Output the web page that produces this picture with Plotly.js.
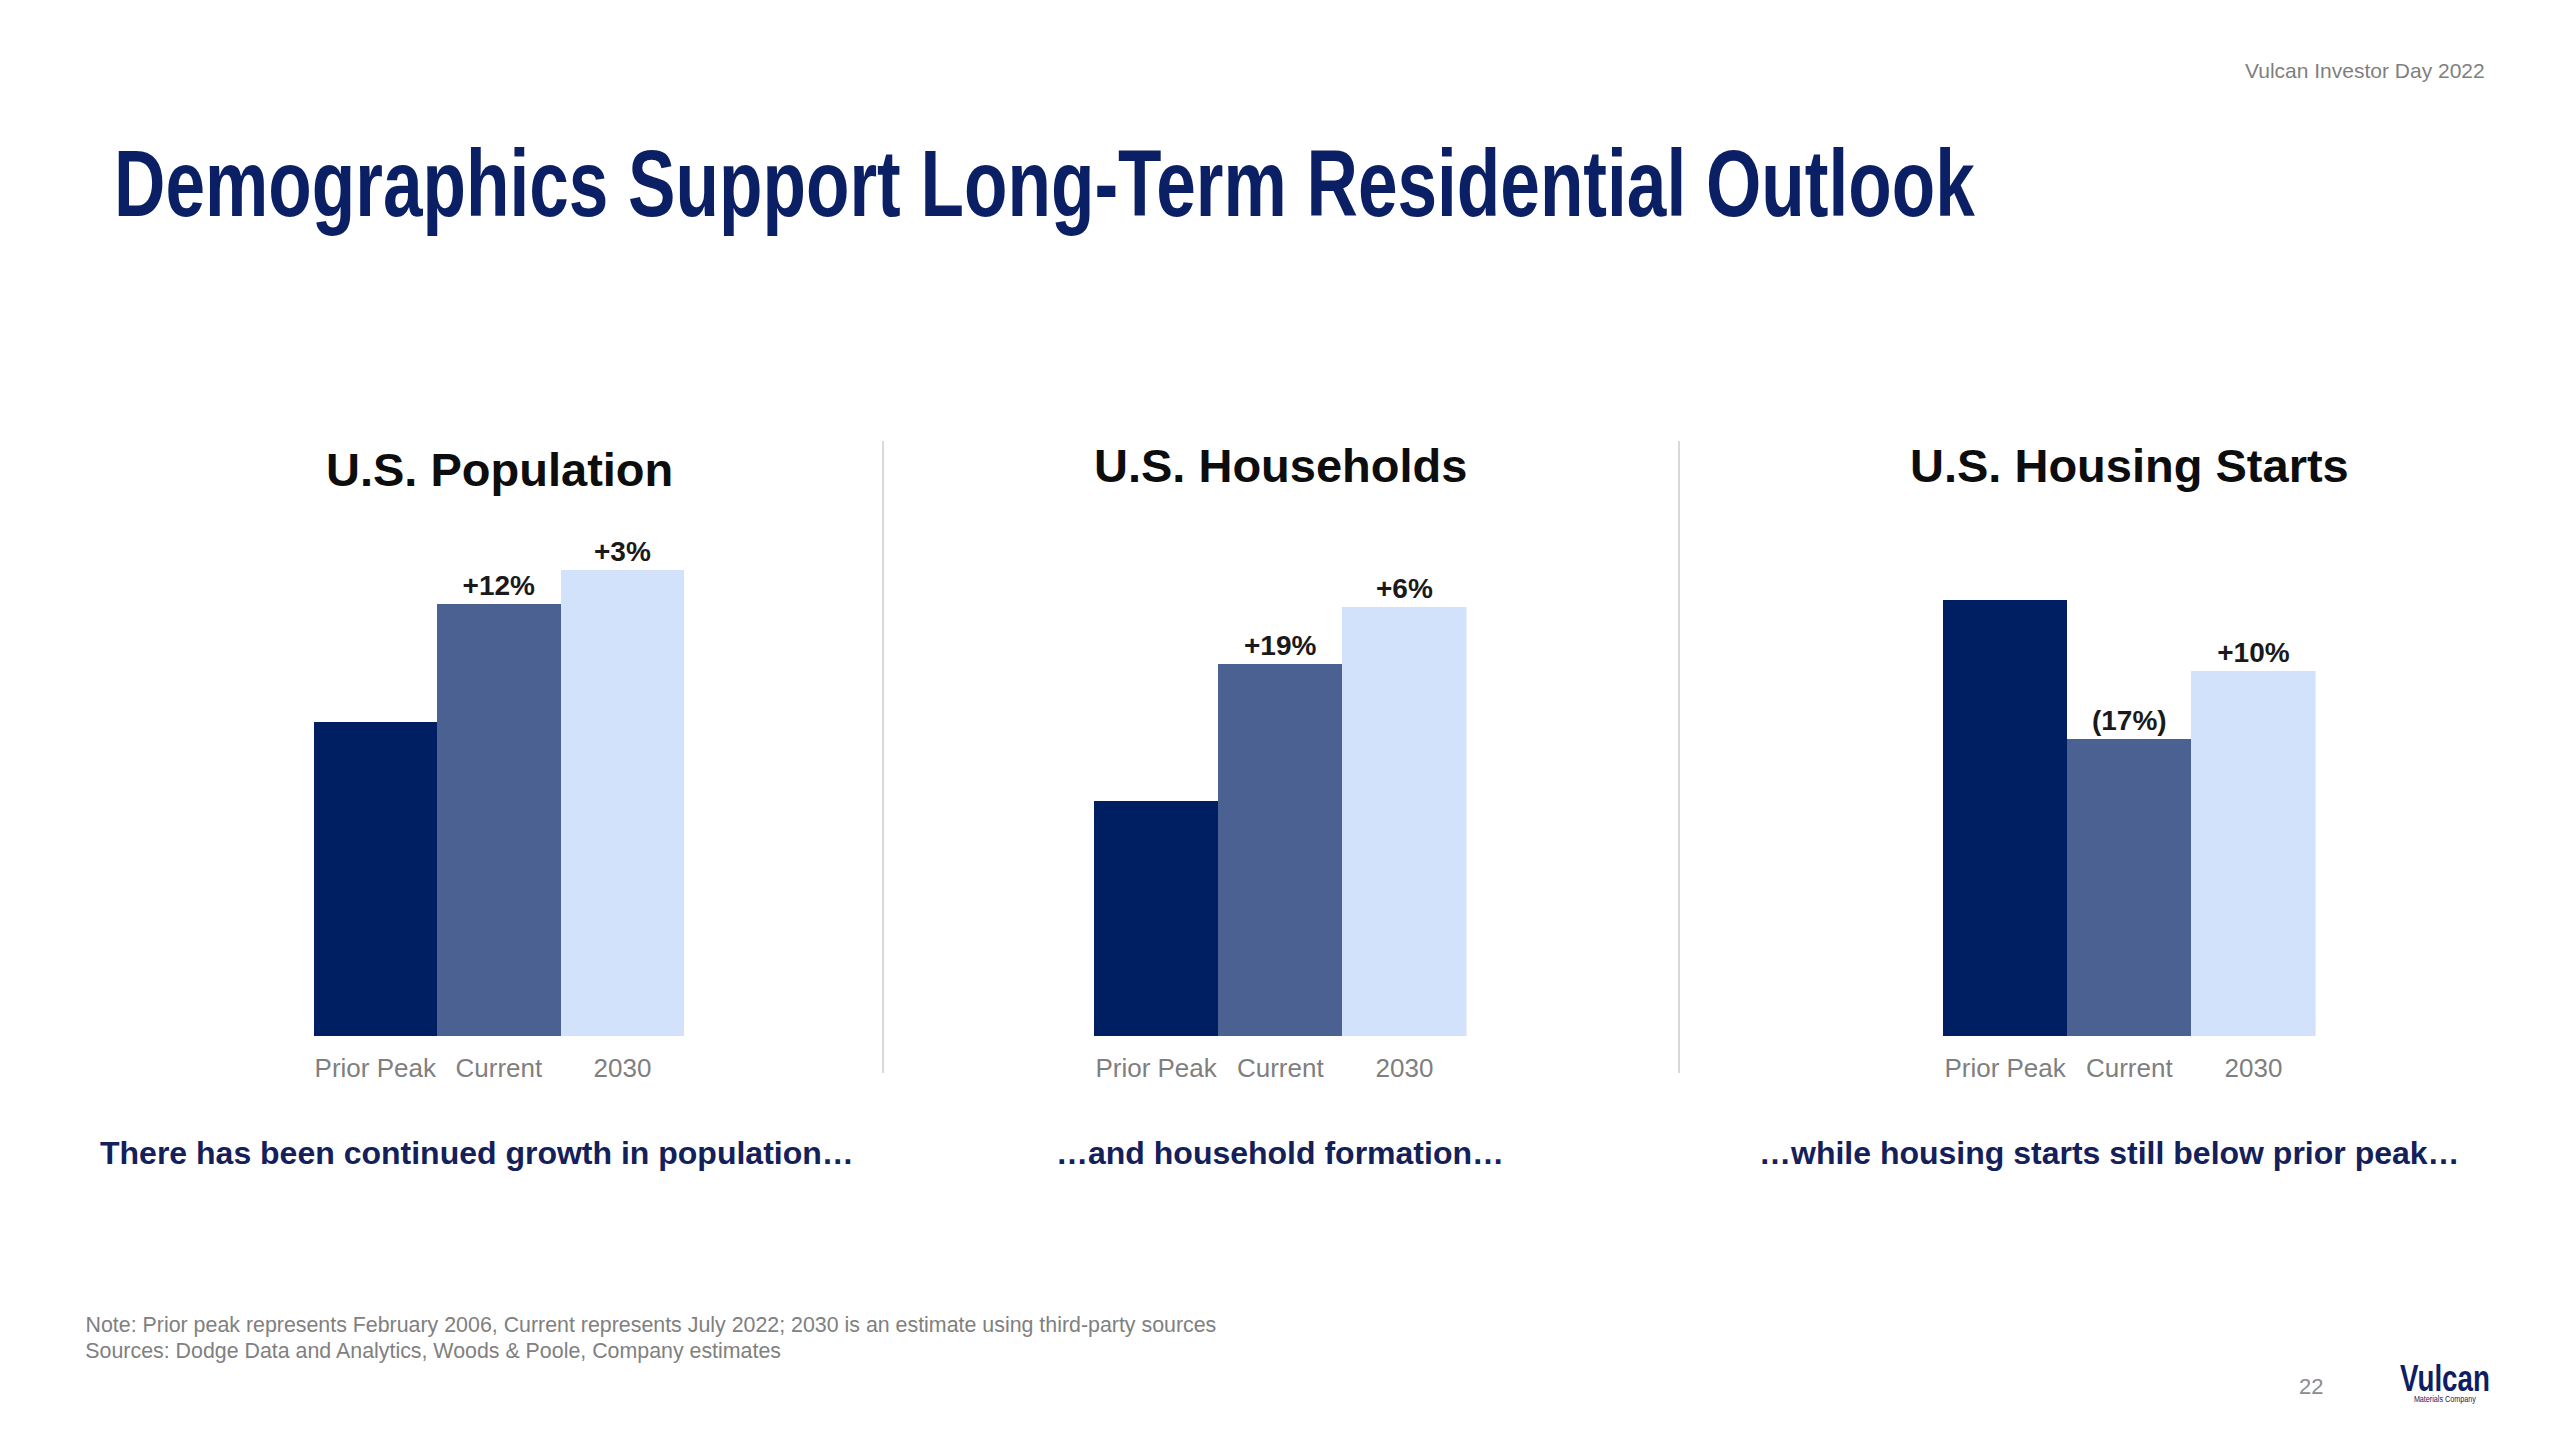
<!DOCTYPE html>
<html>
<head>
<meta charset="utf-8">
<script src="https://cdn.plot.ly/plotly-3.0.1.min.js"></script>
<style>
html,body{margin:0;padding:0;background:#fff;}
#chart{width:2560px;height:1440px;}
</style>
</head>
<body>
<div id="chart"></div>
<script>
// ---- Data (index: Prior Peak = 100) ----
const categories = ["Prior Peak", "Current", "2030"];
const panelTitles = ["U.S. Population", "U.S. Households", "U.S. Housing Starts"];
const populationValues = [100, 112, 115.4];
const householdValues = [100, 119, 127];
const housingStartValues = [100, 83, 91.3];
const populationLabels = ["", "+12%", "+3%"];
const householdLabels = ["", "+19%", "+6%"];
const housingStartLabels = ["", "(17%)", "+10%"];
const captions = [
  "There has been continued growth in population\u2026",
  "\u2026and household formation\u2026",
  "\u2026while housing starts still below prior peak\u2026"
];
const noteLines = [
  "Note: Prior peak represents February 2006, Current represents July 2022; 2030 is an estimate using third-party sources",
  "Sources: Dodge Data and Analytics, Woods & Poole, Company estimates"
];

// ---- Styles ----
const barColors = ["#001E62", "#4B6192", "#D3E2FB"];
const W = 2560, H = 1440;
const px = x => x / W;
const py = y => 1 - y / H;
const baseFont = "Liberation Sans, Arial, Helvetica, sans-serif";

const series = [populationValues, householdValues, housingStartValues];
const labels = [populationLabels, householdLabels, housingStartLabels];
const xDomains = [[px(313.5), px(684.2)], [px(1094), px(1466.5)], [px(1943), px(2315.6)]];
const yRanges = [[68.19, 122.5], [67.36, 141.8], [46.83, 112.2]];
const yDomain = [py(1036), py(500)];

const traces = series.map((vals, i) => ({
  type: "bar",
  x: categories,
  y: vals,
  text: labels[i],
  textposition: "outside",
  constraintext: "none",
  textfont: {family: baseFont, size: 28, color: "#1A1A1A", weight: "bold"},
  marker: {color: barColors, line: {width: 0}},
  xaxis: i === 0 ? "x" : "x" + (i + 1),
  yaxis: i === 0 ? "y" : "y" + (i + 1),
  hoverinfo: "skip",
  showlegend: false
}));

const layout = {
  width: W, height: H,
  margin: {l: 0, r: 0, t: 0, b: 0},
  paper_bgcolor: "#ffffff",
  plot_bgcolor: "rgba(0,0,0,0)",
  bargap: 0,
  font: {family: baseFont},
  annotations: [],
  shapes: []
};

for (let i = 0; i < 3; i++) {
  const s = i === 0 ? "" : String(i + 1);
  layout["xaxis" + s] = {
    type: "category",
    domain: xDomains[i], anchor: "y" + s,
    showgrid: false, zeroline: false, showline: false, ticks: "",
    tickangle: 0,
    tickfont: {family: baseFont, size: 26, color: "#7F7F7F"},
    ticklabelstandoff: 14, fixedrange: true
  };
  layout["yaxis" + s] = {
    domain: yDomain, anchor: "x" + s, range: yRanges[i],
    showgrid: false, zeroline: false, showline: false, showticklabels: false, ticks: "",
    fixedrange: true
  };
}

const titleX = [px(499), px(1280), px(2129)];
const titleY = [py(469), py(465), py(465)];
panelTitles.forEach((t, i) => layout.annotations.push({
  text: t, xref: "paper", yref: "paper", x: titleX[i], y: titleY[i],
  xanchor: "center", yanchor: "middle", showarrow: false,
  font: {family: baseFont, size: 47, color: "#0D0D0D", weight: "bold"}
}));

const capX = [px(477), px(1280), px(2109)];
captions.forEach((t, i) => layout.annotations.push({
  text: t, xref: "paper", yref: "paper", x: capX[i], y: py(1153),
  xanchor: "center", yanchor: "middle", showarrow: false,
  font: {family: baseFont, size: 32, color: "#14205A", weight: "bold"}
}));

// horizontally condensed texts: [index in annotations, scale, anchor]
const condensed = [];

condensed.push([layout.annotations.length, 0.757, "left"]);
layout.annotations.push({
  text: "Demographics Support Long-Term Residential Outlook",
  xref: "paper", yref: "paper", x: px(112), y: py(183),
  xanchor: "left", yanchor: "middle", showarrow: false,
  font: {family: baseFont, size: 94, color: "#0B1F65", weight: "bold"}
});
layout.annotations.push({
  text: "Vulcan Investor Day 2022", xref: "paper", yref: "paper",
  x: px(2487), y: py(70), xanchor: "right", yanchor: "middle", showarrow: false,
  font: {family: baseFont, size: 21, color: "#7F7F7F"}
});
noteLines.forEach((t, i) => {
  condensed.push([layout.annotations.length, 0.93, "left"]);
  layout.annotations.push({
    text: t, xref: "paper", yref: "paper", x: px(83), y: py(1324 + 26 * i),
    xanchor: "left", yanchor: "middle", showarrow: false,
    font: {family: baseFont, size: 23, color: "#808080"}
  });
});
layout.annotations.push({
  text: "22", xref: "paper", yref: "paper", x: px(2311), y: py(1386),
  xanchor: "center", yanchor: "middle", showarrow: false,
  font: {family: baseFont, size: 22, color: "#8C8C8C"}
});
condensed.push([layout.annotations.length, 0.75, "center"]);
layout.annotations.push({
  text: "Vulcan", xref: "paper", yref: "paper", x: px(2445), y: py(1378),
  xanchor: "center", yanchor: "middle", showarrow: false,
  font: {family: baseFont, size: 37, color: "#0E1E64", weight: "bold"}
});
condensed.push([layout.annotations.length, 0.8, "center"]);
layout.annotations.push({
  text: "Materials Company", xref: "paper", yref: "paper", x: px(2445), y: py(1399),
  xanchor: "center", yanchor: "middle", showarrow: false,
  font: {family: baseFont, size: 9, color: "#0E1E64"}
});

[883, 1679].forEach(x => layout.shapes.push({
  type: "line", xref: "paper", yref: "paper",
  x0: px(x), x1: px(x), y0: py(1073), y1: py(441),
  line: {color: "#D9D9D9", width: 2}
}));

Plotly.newPlot("chart", traces, layout, {displayModeBar: false, staticPlot: true}).then(gd => {
  const nodes = gd.querySelectorAll(".annotation");
  condensed.forEach(([idx, s, anchor]) => {
    const g = nodes[idx];
    if (!g) return;
    const t = g.querySelector("text.annotation-text");
    if (!t) return;
    const bb = t.getBBox();
    const ox = anchor === "left" ? bb.x : bb.x + bb.width / 2;
    t.setAttribute("transform", "translate(" + (ox * (1 - s)) + ",0) scale(" + s + ",1)");
  });
});
</script>
</body>
</html>
